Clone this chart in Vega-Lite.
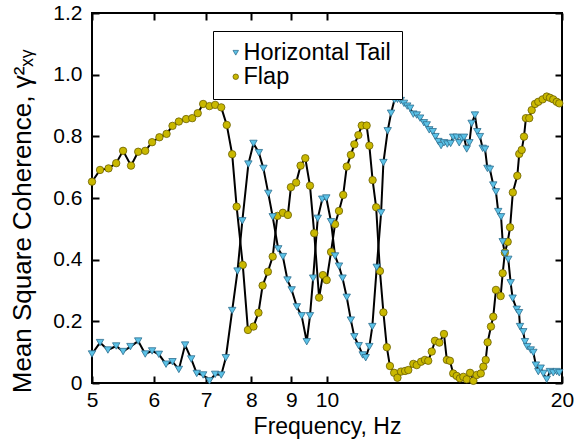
{
  "$schema": "https://vega.github.io/schema/vega-lite/v6.json",
  "width": 470,
  "height": 370,
  "autosize": "none",
  "padding": {"left": 92, "top": 13, "right": 21, "bottom": 58},
  "background": "white",
  "config": {
    "font": "Liberation Sans",
    "view": {"stroke": "black", "strokeWidth": 2},
    "axis": {"grid": false, "domain": false, "tickColor": "black", "tickWidth": 2, "tickSize": -7, "labelColor": "black", "titleColor": "black", "labelFont": "Liberation Sans", "titleFont": "Liberation Sans", "labelFontSize": 21, "titleFontSize": 23, "titleFontWeight": "normal"},
    "legend": {"strokeColor": "black", "fillColor": "white", "padding": 10, "labelFontSize": 23.5, "labelFont": "Liberation Sans", "labelColor": "black", "symbolSize": 30, "symbolStrokeWidth": 0.8, "symbolOffset": 1, "labelOffset": -4, "rowPadding": -1}
  },
  "data": {"values": [
    {"s":"Flap","f":5.00,"c":0.653},{"s":"Flap","f":5.12,"c":0.691},{"s":"Flap","f":5.25,"c":0.696},{"s":"Flap","f":5.37,"c":0.713},{"s":"Flap","f":5.48,"c":0.753},{"s":"Flap","f":5.61,"c":0.705},{"s":"Flap","f":5.73,"c":0.750},{"s":"Flap","f":5.85,"c":0.753},{"s":"Flap","f":5.97,"c":0.781},{"s":"Flap","f":6.10,"c":0.797},{"s":"Flap","f":6.23,"c":0.808},{"s":"Flap","f":6.34,"c":0.834},{"s":"Flap","f":6.46,"c":0.848},{"s":"Flap","f":6.60,"c":0.856},{"s":"Flap","f":6.72,"c":0.859},{"s":"Flap","f":6.83,"c":0.875},{"s":"Flap","f":6.94,"c":0.905},{"s":"Flap","f":7.07,"c":0.898},{"s":"Flap","f":7.19,"c":0.902},{"s":"Flap","f":7.32,"c":0.894},{"s":"Flap","f":7.44,"c":0.837},{"s":"Flap","f":7.56,"c":0.742},{"s":"Flap","f":7.66,"c":0.572},{"s":"Flap","f":7.80,"c":0.383},{"s":"Flap","f":7.92,"c":0.172},{"s":"Flap","f":8.05,"c":0.183},{"s":"Flap","f":8.17,"c":0.228},{"s":"Flap","f":8.27,"c":0.316},{"s":"Flap","f":8.40,"c":0.361},{"s":"Flap","f":8.52,"c":0.410},{"s":"Flap","f":8.64,"c":0.542},{"s":"Flap","f":8.78,"c":0.552},{"s":"Flap","f":8.91,"c":0.545},{"s":"Flap","f":8.99,"c":0.635},{"s":"Flap","f":9.13,"c":0.650},{"s":"Flap","f":9.25,"c":0.705},{"s":"Flap","f":9.38,"c":0.729},{"s":"Flap","f":9.51,"c":0.640},{"s":"Flap","f":9.63,"c":0.486},{"s":"Flap","f":9.77,"c":0.277},{"s":"Flap","f":9.88,"c":0.350},{"s":"Flap","f":9.99,"c":0.334},{"s":"Flap","f":10.12,"c":0.425},{"s":"Flap","f":10.24,"c":0.515},{"s":"Flap","f":10.36,"c":0.558},{"s":"Flap","f":10.49,"c":0.610},{"s":"Flap","f":10.60,"c":0.702},{"s":"Flap","f":10.73,"c":0.740},{"s":"Flap","f":10.84,"c":0.774},{"s":"Flap","f":10.97,"c":0.804},{"s":"Flap","f":11.08,"c":0.835},{"s":"Flap","f":11.24,"c":0.835},{"s":"Flap","f":11.33,"c":0.770},{"s":"Flap","f":11.44,"c":0.658},{"s":"Flap","f":11.56,"c":0.570},{"s":"Flap","f":11.69,"c":0.363},{"s":"Flap","f":11.81,"c":0.229},{"s":"Flap","f":11.93,"c":0.116},{"s":"Flap","f":12.04,"c":0.055},{"s":"Flap","f":12.19,"c":0.033},{"s":"Flap","f":12.31,"c":0.017},{"s":"Flap","f":12.44,"c":0.037},{"s":"Flap","f":12.59,"c":0.039},{"s":"Flap","f":12.71,"c":0.042},{"s":"Flap","f":12.90,"c":0.062},{"s":"Flap","f":13.03,"c":0.058},{"s":"Flap","f":13.20,"c":0.069},{"s":"Flap","f":13.35,"c":0.075},{"s":"Flap","f":13.48,"c":0.072},{"s":"Flap","f":13.62,"c":0.102},{"s":"Flap","f":13.75,"c":0.137},{"s":"Flap","f":13.93,"c":0.131},{"s":"Flap","f":14.12,"c":0.159},{"s":"Flap","f":14.24,"c":0.075},{"s":"Flap","f":14.37,"c":0.072},{"s":"Flap","f":14.51,"c":0.031},{"s":"Flap","f":14.66,"c":0.023},{"s":"Flap","f":14.80,"c":0.015},{"s":"Flap","f":14.95,"c":0.020},{"s":"Flap","f":15.10,"c":0.012},{"s":"Flap","f":15.25,"c":0.033},{"s":"Flap","f":15.40,"c":0.007},{"s":"Flap","f":15.55,"c":0.026},{"s":"Flap","f":15.74,"c":0.031},{"s":"Flap","f":15.86,"c":0.053},{"s":"Flap","f":15.97,"c":0.075},{"s":"Flap","f":16.06,"c":0.132},{"s":"Flap","f":16.22,"c":0.183},{"s":"Flap","f":16.33,"c":0.215},{"s":"Flap","f":16.46,"c":0.302},{"s":"Flap","f":16.69,"c":0.282},{"s":"Flap","f":16.79,"c":0.356},{"s":"Flap","f":16.90,"c":0.423},{"s":"Flap","f":17.04,"c":0.458},{"s":"Flap","f":17.16,"c":0.505},{"s":"Flap","f":17.30,"c":0.618},{"s":"Flap","f":17.53,"c":0.672},{"s":"Flap","f":17.63,"c":0.743},{"s":"Flap","f":17.76,"c":0.756},{"s":"Flap","f":17.88,"c":0.799},{"s":"Flap","f":17.98,"c":0.859},{"s":"Flap","f":18.16,"c":0.859},{"s":"Flap","f":18.29,"c":0.885},{"s":"Flap","f":18.47,"c":0.905},{"s":"Flap","f":18.65,"c":0.912},{"s":"Flap","f":18.89,"c":0.920},{"s":"Flap","f":19.12,"c":0.929},{"s":"Flap","f":19.30,"c":0.925},{"s":"Flap","f":19.49,"c":0.920},{"s":"Flap","f":19.69,"c":0.912},{"s":"Flap","f":19.84,"c":0.907},
    {"s":"Horizontal Tail","f":5.00,"c":0.094},{"s":"Horizontal Tail","f":5.12,"c":0.131},{"s":"Horizontal Tail","f":5.24,"c":0.107},{"s":"Horizontal Tail","f":5.37,"c":0.120},{"s":"Horizontal Tail","f":5.48,"c":0.102},{"s":"Horizontal Tail","f":5.60,"c":0.118},{"s":"Horizontal Tail","f":5.73,"c":0.136},{"s":"Horizontal Tail","f":5.85,"c":0.094},{"s":"Horizontal Tail","f":5.97,"c":0.104},{"s":"Horizontal Tail","f":6.09,"c":0.093},{"s":"Horizontal Tail","f":6.22,"c":0.061},{"s":"Horizontal Tail","f":6.34,"c":0.069},{"s":"Horizontal Tail","f":6.46,"c":0.044},{"s":"Horizontal Tail","f":6.58,"c":0.123},{"s":"Horizontal Tail","f":6.70,"c":0.078},{"s":"Horizontal Tail","f":6.81,"c":0.031},{"s":"Horizontal Tail","f":6.94,"c":0.026},{"s":"Horizontal Tail","f":7.07,"c":0.007},{"s":"Horizontal Tail","f":7.19,"c":0.028},{"s":"Horizontal Tail","f":7.32,"c":0.026},{"s":"Horizontal Tail","f":7.42,"c":0.082},{"s":"Horizontal Tail","f":7.56,"c":0.235},{"s":"Horizontal Tail","f":7.68,"c":0.363},{"s":"Horizontal Tail","f":7.79,"c":0.526},{"s":"Horizontal Tail","f":7.93,"c":0.710},{"s":"Horizontal Tail","f":8.05,"c":0.777},{"s":"Horizontal Tail","f":8.18,"c":0.747},{"s":"Horizontal Tail","f":8.29,"c":0.696},{"s":"Horizontal Tail","f":8.41,"c":0.615},{"s":"Horizontal Tail","f":8.52,"c":0.539},{"s":"Horizontal Tail","f":8.66,"c":0.435},{"s":"Horizontal Tail","f":8.78,"c":0.410},{"s":"Horizontal Tail","f":8.90,"c":0.334},{"s":"Horizontal Tail","f":9.01,"c":0.302},{"s":"Horizontal Tail","f":9.15,"c":0.247},{"s":"Horizontal Tail","f":9.28,"c":0.218},{"s":"Horizontal Tail","f":9.42,"c":0.134},{"s":"Horizontal Tail","f":9.51,"c":0.218},{"s":"Horizontal Tail","f":9.60,"c":0.340},{"s":"Horizontal Tail","f":9.73,"c":0.534},{"s":"Horizontal Tail","f":9.86,"c":0.596},{"s":"Horizontal Tail","f":9.98,"c":0.600},{"s":"Horizontal Tail","f":10.12,"c":0.523},{"s":"Horizontal Tail","f":10.24,"c":0.412},{"s":"Horizontal Tail","f":10.36,"c":0.379},{"s":"Horizontal Tail","f":10.47,"c":0.340},{"s":"Horizontal Tail","f":10.60,"c":0.278},{"s":"Horizontal Tail","f":10.73,"c":0.204},{"s":"Horizontal Tail","f":10.84,"c":0.150},{"s":"Horizontal Tail","f":10.98,"c":0.121},{"s":"Horizontal Tail","f":11.11,"c":0.091},{"s":"Horizontal Tail","f":11.21,"c":0.082},{"s":"Horizontal Tail","f":11.33,"c":0.118},{"s":"Horizontal Tail","f":11.43,"c":0.183},{"s":"Horizontal Tail","f":11.58,"c":0.375},{"s":"Horizontal Tail","f":11.73,"c":0.552},{"s":"Horizontal Tail","f":11.81,"c":0.715},{"s":"Horizontal Tail","f":11.96,"c":0.818},{"s":"Horizontal Tail","f":12.08,"c":0.875},{"s":"Horizontal Tail","f":12.20,"c":0.918},{"s":"Horizontal Tail","f":12.31,"c":0.920},{"s":"Horizontal Tail","f":12.43,"c":0.916},{"s":"Horizontal Tail","f":12.55,"c":0.907},{"s":"Horizontal Tail","f":12.67,"c":0.898},{"s":"Horizontal Tail","f":12.78,"c":0.891},{"s":"Horizontal Tail","f":12.90,"c":0.872},{"s":"Horizontal Tail","f":13.03,"c":0.869},{"s":"Horizontal Tail","f":13.16,"c":0.859},{"s":"Horizontal Tail","f":13.31,"c":0.844},{"s":"Horizontal Tail","f":13.42,"c":0.837},{"s":"Horizontal Tail","f":13.52,"c":0.821},{"s":"Horizontal Tail","f":13.66,"c":0.815},{"s":"Horizontal Tail","f":13.77,"c":0.799},{"s":"Horizontal Tail","f":13.89,"c":0.783},{"s":"Horizontal Tail","f":14.00,"c":0.770},{"s":"Horizontal Tail","f":14.12,"c":0.779},{"s":"Horizontal Tail","f":14.26,"c":0.775},{"s":"Horizontal Tail","f":14.40,"c":0.777},{"s":"Horizontal Tail","f":14.51,"c":0.797},{"s":"Horizontal Tail","f":14.66,"c":0.797},{"s":"Horizontal Tail","f":14.77,"c":0.779},{"s":"Horizontal Tail","f":14.88,"c":0.794},{"s":"Horizontal Tail","f":14.98,"c":0.797},{"s":"Horizontal Tail","f":15.10,"c":0.759},{"s":"Horizontal Tail","f":15.22,"c":0.779},{"s":"Horizontal Tail","f":15.32,"c":0.842},{"s":"Horizontal Tail","f":15.47,"c":0.869},{"s":"Horizontal Tail","f":15.58,"c":0.815},{"s":"Horizontal Tail","f":15.70,"c":0.799},{"s":"Horizontal Tail","f":15.83,"c":0.761},{"s":"Horizontal Tail","f":15.94,"c":0.758},{"s":"Horizontal Tail","f":16.05,"c":0.696},{"s":"Horizontal Tail","f":16.17,"c":0.693},{"s":"Horizontal Tail","f":16.33,"c":0.642},{"s":"Horizontal Tail","f":16.46,"c":0.620},{"s":"Horizontal Tail","f":16.57,"c":0.556},{"s":"Horizontal Tail","f":16.71,"c":0.539},{"s":"Horizontal Tail","f":16.79,"c":0.458},{"s":"Horizontal Tail","f":16.90,"c":0.420},{"s":"Horizontal Tail","f":17.07,"c":0.401},{"s":"Horizontal Tail","f":17.19,"c":0.325},{"s":"Horizontal Tail","f":17.29,"c":0.275},{"s":"Horizontal Tail","f":17.50,"c":0.239},{"s":"Horizontal Tail","f":17.62,"c":0.228},{"s":"Horizontal Tail","f":17.67,"c":0.183},{"s":"Horizontal Tail","f":17.84,"c":0.166},{"s":"Horizontal Tail","f":17.93,"c":0.134},{"s":"Horizontal Tail","f":18.05,"c":0.118},{"s":"Horizontal Tail","f":18.24,"c":0.107},{"s":"Horizontal Tail","f":18.38,"c":0.099},{"s":"Horizontal Tail","f":18.52,"c":0.058},{"s":"Horizontal Tail","f":18.65,"c":0.037},{"s":"Horizontal Tail","f":18.78,"c":0.048},{"s":"Horizontal Tail","f":18.93,"c":0.031},{"s":"Horizontal Tail","f":19.12,"c":0.012},{"s":"Horizontal Tail","f":19.30,"c":0.037},{"s":"Horizontal Tail","f":19.49,"c":0.033},{"s":"Horizontal Tail","f":19.69,"c":0.037},{"s":"Horizontal Tail","f":19.84,"c":0.033}
  ]},
  "layer": [
    {
      "mark": {"type": "line", "color": "black", "strokeWidth": 2, "clip": true},
      "encoding": {
        "x": {"field": "f", "type": "quantitative", "scale": {"type": "log", "domain": [5, 20], "nice": false}, "axis": {"orient": "bottom", "values": [5,6,7,8,9,10,20], "format": "d", "labelPadding": 13, "title": "Frequency, Hz", "titlePadding": 5, "labelFlush": false}},
        "y": {"field": "c", "type": "quantitative", "scale": {"domain": [0, 1.2], "nice": false, "zero": true}, "axis": {"orient": "left", "values": [0,0.2,0.4,0.6,0.8,1.0,1.2], "labelExpr": "datum.value == 0 ? '0' : format(datum.value, '.1f')", "labelPadding": 17, "title": "Mean Square Coherence, γ²ₓᵧ", "titleFontSize": 26, "titleX": -62, "titleY": 208, "titleBaseline": "alphabetic", "titleAngle": -90, "titleAlign": "center"}},
        "detail": {"field": "s"}
      }
    },
    {
      "mark": {"type": "point", "filled": true, "opacity": 1, "strokeWidth": 0.8, "size": 55},
      "encoding": {
        "x": {"field": "f", "type": "quantitative", "axis": null},
        "y": {"field": "c", "type": "quantitative", "axis": null},
        "shape": {"field": "s", "type": "nominal", "scale": {"domain": ["Horizontal Tail", "Flap"], "range": ["triangle-down", "circle"]}, "legend": {"title": null, "orient": "none", "legendX": 121, "legendY": 18}},
        "fill": {"field": "s", "type": "nominal", "scale": {"domain": ["Horizontal Tail", "Flap"], "range": ["#5BC2E7", "#C9B800"]}, "legend": {"title": null, "orient": "none", "legendX": 121, "legendY": 18}},
        "stroke": {"field": "s", "type": "nominal", "scale": {"domain": ["Horizontal Tail", "Flap"], "range": ["#2F6F8F", "#6B6000"]}, "legend": {"title": null, "orient": "none", "legendX": 121, "legendY": 18}}
      }
    },
    {
      "mark": {"type": "line", "opacity": 0},
      "encoding": {
        "x": {"field": "f", "type": "quantitative", "axis": {"orient": "top", "values": [5,6,7,8,9,10,20], "labels": false, "title": null}},
        "y": {"field": "c", "type": "quantitative", "axis": {"orient": "right", "values": [0,0.2,0.4,0.6,0.8,1.0,1.2], "labels": false, "title": null}},
        "detail": {"field": "s"}
      }
    }
  ],
  "resolve": {"axis": {"x": "independent", "y": "independent"}}
}
